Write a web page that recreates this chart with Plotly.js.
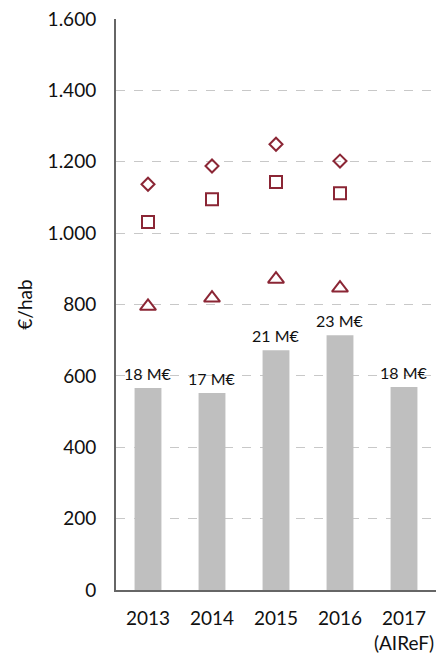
<!DOCTYPE html>
<html>
<head>
<meta charset="utf-8">
<script src="https://cdn.plot.ly/plotly-3.0.1.min.js"></script>
<style>html,body{margin:0;padding:0;background:#fff;}#chart{width:448px;height:656px;}</style>
</head>
<body>
<div id="chart"></div>
<script>
var categories = ["2013", "2014", "2015", "2016", "2017<br>(AIReF)"];
var barValues = [566, 552, 672, 714, 569];
var barLabels = ["18 M€", "17 M€", "21 M€", "23 M€", "18 M€"];
var markerCategories = ["2013", "2014", "2015", "2016"];
var diamondValues = [1137, 1188, 1249, 1202];
var squareValues = [1031, 1095, 1143, 1112];
var triangleValues = [795, 818, 871, 846];

var FONT = "Lato, 'Open Sans', sans-serif";
var RED = "#8B2635";

function markerTrace(y, sym, size) {
  return {
    type: "scatter", mode: "markers", x: markerCategories, y: y,
    marker: {symbol: sym, size: size, color: RED, line: {color: RED, width: 2}},
    showlegend: false, hoverinfo: "skip"
  };
}

var data = [
  {
    type: "bar", x: categories, y: barValues,
    marker: {color: "#bfbfbf"},
    showlegend: false, hoverinfo: "skip"
  },
  markerTrace(diamondValues, "diamond-open", 10),
  markerTrace(squareValues, "square-open", 12),
  markerTrace(triangleValues, "triangle-up-open", 14)
];

// annotation x given as category index (numeric-looking category names are ambiguous)
var annotations = categories.map(function (c, i) {
  return {
    x: i, y: barValues[i], xref: "x", yref: "y",
    text: barLabels[i], showarrow: false,
    yanchor: "bottom", yshift: 3,
    font: {family: FONT, size: 16, color: "#111"}
  };
});

var layout = {
  width: 448, height: 656,
  margin: {l: 116, r: 12, t: 19, b: 66},
  paper_bgcolor: "#fff", plot_bgcolor: "#fff",
  separators: ",.",
  bargap: 0.58,
  font: {family: FONT, color: "#111"},
  annotations: annotations,
  xaxis: {
    type: "category",
    range: [-0.5, 4.5],
    showline: true, linecolor: "#666", linewidth: 2,
    showgrid: false, zeroline: false,
    ticks: "", ticklabelstandoff: 10,
    tickfont: {family: FONT, size: 19, color: "#111"}
  },
  yaxis: {
    range: [0, 1600], dtick: 200,
    separatethousands: true,
    showline: true, linecolor: "#666", linewidth: 2,
    showgrid: true, gridcolor: "#c8c8c8", griddash: "dash", gridwidth: 1,
    zeroline: false,
    ticks: "", ticklabelstandoff: 14,
    tickfont: {family: FONT, size: 19, color: "#111"},
    title: {text: "€/hab", font: {family: FONT, size: 19, color: "#111"}, standoff: 10}
  }
};

Plotly.newPlot("chart", data, layout, {displayModeBar: false, staticPlot: true});
</script>
</body>
</html>
